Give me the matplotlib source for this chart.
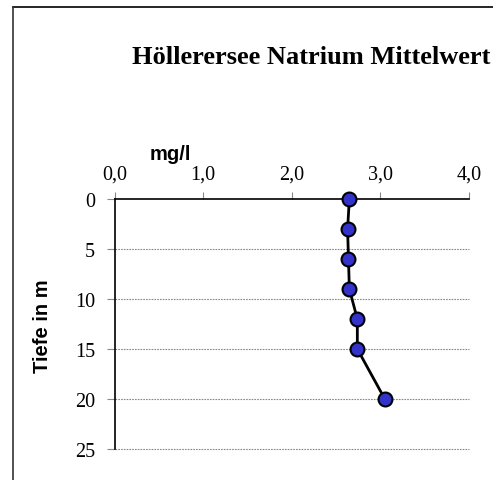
import matplotlib
matplotlib.use("Agg")
import matplotlib.pyplot as plt
from matplotlib.lines import Line2D

# Messwerte (Natrium, Mittelwert) je Tiefe
tiefe = [0, 3, 6, 9, 12, 15, 20]
natrium = [2.65, 2.63, 2.64, 2.65, 2.74, 2.74, 3.05]
x_ticks = [0.0, 1.0, 2.0, 3.0, 4.0]
y_ticks = [0, 5, 10, 15, 20, 25]

W, H = 493, 481
fig = plt.figure(figsize=(W / 100, H / 100), dpi=100)

ax = fig.add_axes([114.5 / W, 1 - 450 / H, (469 - 114.5) / W, 250 / H])
ax.plot(natrium, tiefe, color='black', lw=2, marker='o', ms=10,
        markerfacecolor='#3333cc', markeredgecolor='black', mew=1.5,
        clip_on=False, zorder=5)

ax.set_xlim(0, 4)
ax.set_ylim(25, 0)
ax.xaxis.tick_top()
ax.set_xticks(x_ticks)
ax.set_xticklabels([("%.1f" % v).replace('.', ',') for v in x_ticks])
ax.set_yticks(y_ticks)
ax.set_yticklabels([str(v) for v in y_ticks])
for lab in ax.get_xticklabels() + ax.get_yticklabels():
    lab.set_family('Liberation Serif')
    lab.set_fontsize(14.5)
ax.tick_params(axis='x', length=5, color='#888888', pad=6)
ax.tick_params(axis='y', length=6, color='#888888', pad=8)

ax.spines['right'].set_visible(False)
ax.spines['bottom'].set_visible(False)
ax.spines['top'].set_linewidth(1.2)
ax.spines['left'].set_linewidth(1.2)

for v in y_ticks[1:]:
    ax.axhline(v, color='#888888', lw=0.8, ls=(0, (1.5, 1)), zorder=1, clip_on=False)

fig.text(170 / W, 1 - 155 / H, 'mg/l', family='Liberation Sans', weight='bold',
         fontsize=14.5, ha='center', va='center')
fig.text(43 / W, 1 - 326 / H, 'Tiefe in m', family='Liberation Sans', weight='bold',
         fontsize=14.5, ha='center', va='center', rotation=90)
fig.text(311 / W, 1 - 58 / H, 'Höllerersee Natrium Mittelwert', family='Liberation Serif',
         weight='bold', fontsize=19, ha='center', va='center')

# Rahmen oben und links
fig.add_artist(Line2D([12.5 / W, 1], [1 - 8 / H, 1 - 8 / H], color='black', lw=1.2))
fig.add_artist(Line2D([12.5 / W, 12.5 / W], [0, 1 - 8 / H], color='#333333', lw=1.2))

fig.savefig('out.png', dpi=100)
